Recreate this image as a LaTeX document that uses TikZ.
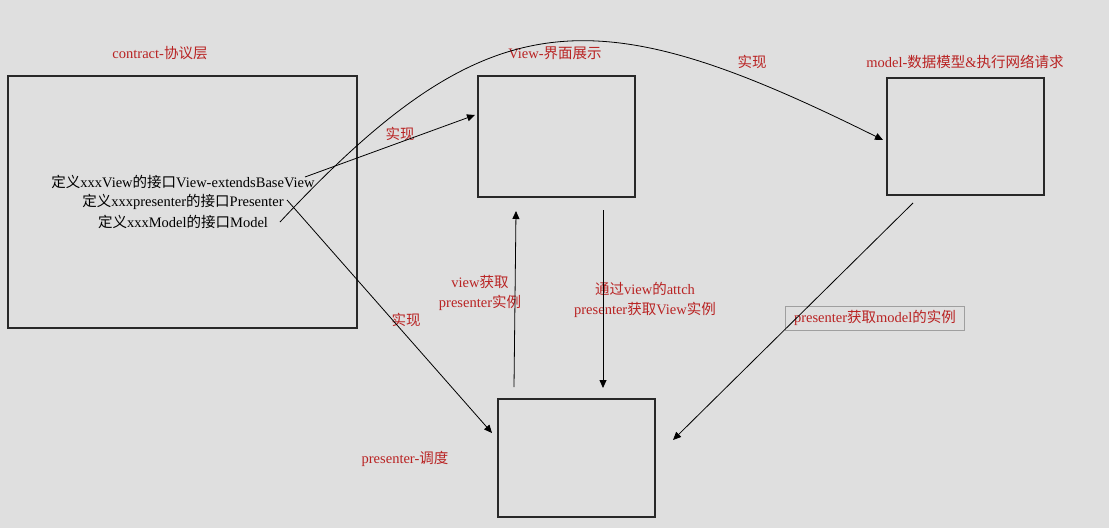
\documentclass[tikz,border=0pt]{standalone}
\usepackage{fontspec}
\setmainfont{Liberation Serif}
\newfontfamily\cjk{Noto Sans CJK SC}
\usetikzlibrary{arrows.meta}
\newcommand{\zh}[1]{{\cjk #1}}
\definecolor{bg}{RGB}{223,223,223}
\definecolor{lblred}{RGB}{185,35,35}
\definecolor{frame}{RGB}{40,40,40}
\begin{document}
\begin{tikzpicture}[x=1pt,y=-1pt,
 box/.style={draw=frame, line width=2pt, inner sep=0pt},
 lbl/.style={text=lblred, font=\fontsize{14.5}{20}\selectfont, inner sep=1pt},
 deftext/.style={text=black, font=\fontsize{14.5}{20}\selectfont, inner sep=0pt},
 arr/.style={-{Triangle[length=8pt,width=7pt]}, line width=0.8pt, black}]
\fill[bg] (0,0) rectangle (1109,528);
\useasboundingbox (0,0) rectangle (1109,528);
% boxes
\node[box, minimum width=349pt, minimum height=252pt] (contract) at (182.5,202) {};
\node[box, minimum width=157pt, minimum height=121pt] (view) at (556.5,136.5) {};
\node[box, minimum width=157pt, minimum height=117pt] (model) at (965.5,136.5) {};
\node[box, minimum width=157pt, minimum height=118pt] (presenter) at (576.5,458) {};
% titles
\node[lbl] (tc) at (160,53) {contract-\zh{协议层}};
\node[lbl] (tv) at (555,53) {View-\zh{界面展示}};
\node[lbl] (tm) at (965,62) {model-\zh{数据模型}\&\zh{执行网络请求}};
\node[lbl] (tp) at (405,459) {presenter-\zh{调度}};
% connector labels
\node[lbl] (r1) at (400,134) {\zh{实现}};
\node[lbl] (r2) at (752,62) {\zh{实现}};
\node[lbl] (r3) at (406,320) {\zh{实现}};
\node[lbl, align=center] (vp) at (480,293) {view\zh{获取}\\presenter\zh{实例}};
\node[lbl, align=center] (pv) at (645,300) {\zh{通过}view\zh{的}attch\\presenter\zh{获取}View\zh{实例}};
\node[lbl, draw=gray!75, line width=0.8pt, minimum width=179pt, minimum height=24pt] (pm) at (875,318) {presenter\zh{获取}model\zh{的实例}};
% definitions
\node[deftext] (d1) at (183,182) {\zh{定义}xxxView\zh{的接口}View-extendsBaseView};
\node[deftext] (d2) at (183,202) {\zh{定义}xxxpresenter\zh{的接口}Presenter};
\node[deftext] (d3) at (183,222) {\zh{定义}xxxModel\zh{的接口}Model};
% connector ends
\coordinate (a1s) at (305,177);
\coordinate (a1e) at (475,115);
\coordinate (a2s) at (280,222);
\coordinate (a2e) at (883,140);
\coordinate (a3s) at (287,200);
\coordinate (a3e) at (492,433);
\coordinate (a4s) at (514,387);
\coordinate (a4e) at (516,211);
\coordinate (a5s) at (603,210);
\coordinate (a5e) at (603,388);
\coordinate (a6s) at (913,203);
\coordinate (a6e) at (673,440);
% connectors
\draw[arr] (a1s) -- (a1e);
\draw[arr] (a2s) .. controls (490,-3) and (595,-3) .. (a2e);
\draw[arr] (a3s) -- (a3e);
\draw[arr] (a4s) -- (a4e);
\draw[arr] (a5s) -- (a5e);
\draw[arr] (a6s) -- (a6e);
\end{tikzpicture}
\end{document}
